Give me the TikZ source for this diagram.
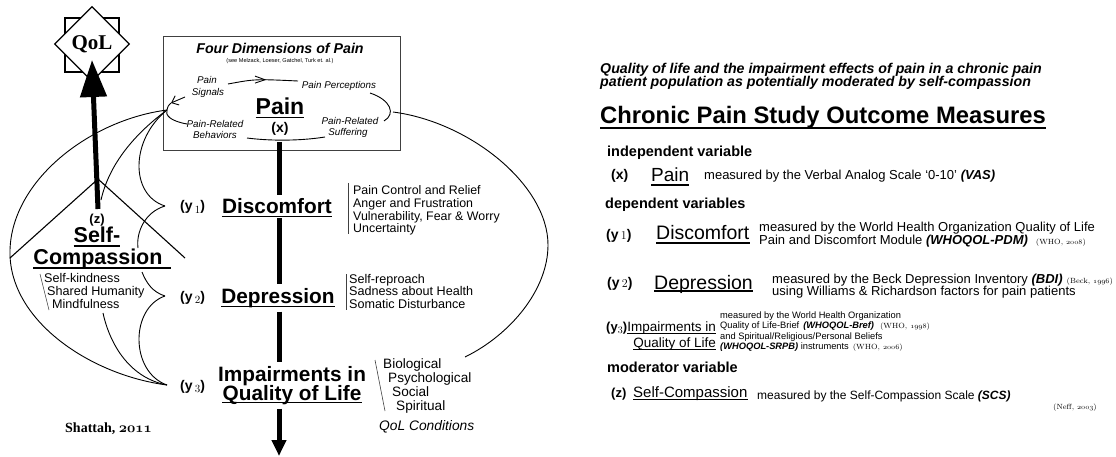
\documentclass[tikz,border=0pt]{standalone}
\usepackage{fontspec}
\setmainfont{Liberation Sans}
\newfontfamily\lmr{Latin Modern Roman}
\newfontfamily\lsr{Liberation Serif}
\usetikzlibrary{arrows.meta,decorations.markings,shapes.geometric}
\newcommand\fsz[1]{\fontsize{#1}{#1}\selectfont}
\newcommand\osn[1]{{\usefont{OML}{cmm}{m}{it}#1}}
\newcommand\osnb[1]{{\usefont{OML}{cmm}{b}{it}#1}}
\newcommand\refc[2]{{\lmr\fsz{7.5}(#1, \osn{#2})}}
\newcommand\ysub[3]{{\bfseries (y}\,\raisebox{#3}{\lmr\fsz{#2}#1}{\bfseries )}}
\newcommand\ysubt[3]{{\bfseries (y}\raisebox{#3}{\lmr\fsz{#2}#1}{\bfseries )}}
\begin{document}
\begin{tikzpicture}[x=1pt,y=-1pt,
  cv/.style={line width=0.9pt},
  thk/.style={line width=5pt},
  ul/.style={line width=1.1pt},
  tx/.style={inner sep=0pt, anchor=base west},
  txc/.style={inner sep=0pt, anchor=base},
  mid/.style={inner xsep=0pt, inner ysep=4pt, anchor=base, font=\bfseries\fsz{20.8}},
  lst/.style={line width=0.6pt, black!75},
  itl/.style={inner sep=0pt, anchor=base, font=\itshape\fsz{9.8}},
  desc/.style={inner sep=0pt, anchor=base west, font=\fsz{13}},
  desc3/.style={inner sep=0pt, anchor=base west, font=\fsz{9.3}},
  head/.style={inner sep=0pt, anchor=base west, font=\bfseries\fsz{14.5}},
]
\useasboundingbox (0,0) rectangle (1116,457);

% ---------- QoL ----------
\node[draw, line width=1.3pt, minimum size=54pt, inner sep=0pt] (sq) at (92,45) {};
\node[diamond, aspect=1, draw, fill=white, line width=1.3pt, minimum width=75pt, minimum height=75pt, inner sep=0pt,
      font=\lsr\bfseries\fsz{21}] (qol) at (92,44) {QoL};
\coordinate (qtip) at (92,60);
\coordinate (zt) at (98,209);
\draw[thk, -{Triangle[length=37pt,width=26pt]}] (zt) -- (qtip);

% ---------- Pain box ----------
\node[draw=black!75, line width=1pt, minimum width=237pt, minimum height=114pt, inner sep=0pt] (box) at (281.5,94) {};
\node[txc, font=\bfseries\itshape\fsz{14.2}] (fdp) at (280,54) {Four Dimensions of Pain};
\node[txc, font=\fsz{5.6}] (see) at (280,63) {(see Melzack, Loeser, Gatchel, Turk et. al.)};
\node[txc, font=\bfseries\fsz{23}] (pain) at (280,115) {Pain};
\draw[ul, line width=1.3pt] ([yshift=-2.5pt]pain.base west) -- ([yshift=-2.5pt]pain.base east);
\node[txc, font=\bfseries\fsz{14}] (xl) at (280,133) {(x)};

\node[itl] (ps1) at (207,84) {Pain};
\node[itl] (ps2) at (208,96) {Signals};
\node[itl] (pp) at (339,89) {Pain Perceptions};
\node[itl] (pb1) at (215,128) {Pain-Related};
\node[itl] (pb2) at (215,139) {Behaviors};
\node[itl] (pr1) at (350,125) {Pain-Related};
\node[itl] (pr2) at (348,136) {Suffering};

% inner cycle
\draw[cv, postaction={decorate}, decoration={markings,
   mark=at position 0.55 with {\arrow{Straight Barb[length=10pt,width=7pt]}}}]
   (228,84) .. controls (255,79) .. (298,81);
\draw[cv] (370,93) .. controls (391,100) and (396,114) .. (384,121);
\draw[cv] (325,137) .. controls (300,141) and (270,141) .. (247,138);
\coordinate (P) at (167,110);
\draw[cv] (187,124) .. controls (170,121) and (165,115) .. (P) .. controls (168,106) .. (171,103);
\draw[cv, -{Straight Barb[length=6pt,width=10pt]}] (185,97) -- (171,103);

% ---------- central spine ----------
\coordinate (vx) at (279,142);
\node[mid] (disc) at (277,214) {Discomfort};
\draw[ul, line width=1.3pt] ([yshift=-2.5pt]disc.base west) -- ([yshift=-2.5pt]disc.base east);
\node[mid] (dep) at (278,303) {Depression};
\draw[ul, line width=1.3pt] ([yshift=-3.5pt]dep.base west) -- ([yshift=-3.5pt]dep.base east);
\node[mid] (imp1) at (292,381) {Impairments in};
\node[mid] (imp2) at (292,400) {Quality of Life};
\draw[ul, line width=1.3pt] ([yshift=-2.5pt]imp2.base west) -- ([yshift=-2.5pt]imp2.base east);
\coordinate (bot) at (279,456);
\draw[thk] (vx) -- (vx |- disc.north);
\draw[thk] (vx |- disc.south) -- (vx |- dep.north);
\draw[thk] (vx |- dep.south) -- (vx |- imp1.north);
\draw[thk, -{Triangle[length=16pt,width=14pt]}] (vx |- imp2.south) -- (bot);

% dimension lists
\draw[lst] (348,183) -- (348,234);
\node[tx, font=\fsz{12.4}] (l11) at (353,195) {Pain Control and Relief};
\node[tx, font=\fsz{12.4}] (l12) at (353,207.5) {Anger and Frustration};
\node[tx, font=\fsz{12.4}] (l13) at (353,220) {Vulnerability, Fear \& Worry};
\node[tx, font=\fsz{12.4}] (l14) at (353,232.5) {Uncertainty};
\draw[lst] (346,274) -- (346,310);
\node[tx, font=\fsz{12.6}] (l21) at (349,283) {Self-reproach};
\node[tx, font=\fsz{12.6}] (l22) at (349,295.5) {Sadness about Health};
\node[tx, font=\fsz{12.6}] (l23) at (349,308) {Somatic Disturbance};
\draw[lst] (375,360) -- (385,411);
\node[tx, font=\fsz{13.6}] (l31) at (383,368) {Biological};
\node[tx, font=\fsz{13.6}] (l32) at (388,382) {Psychological};
\node[tx, font=\fsz{13.6}] (l33) at (392,396) {Social};
\node[tx, font=\fsz{13.6}] (l34) at (396,410) {Spiritual};
\node[tx, font=\itshape\fsz{13.8}] (qc) at (379,430) {QoL Conditions};

% ---------- y labels ----------
\node[tx, font=\fsz{14}] (y1) at (180,211) {\ysub{1}{11}{-2.5pt}};
\node[tx, font=\fsz{14}] (y2) at (180,301) {\ysub{2}{11}{-2.5pt}};
\node[tx, font=\fsz{14}] (y3) at (180,390) {\ysub{3}{11}{-2.5pt}};

% ---------- Self-Compassion ----------
\node[txc, font=\bfseries\fsz{13}] (zl) at (97,223) {(z)};
\node[txc, font=\bfseries\fsz{21.5}] (self) at (97,243) {Self-};
\draw[ul, line width=1.3pt] ([yshift=-3pt]self.base west) -- ([yshift=-3pt]self.base east);
\node[txc, font=\bfseries\fsz{21.5}] (comp) at (98,264) {Compassion};
\draw[ul, line width=1.3pt] ([yshift=-4pt]comp.base west) -- ([yshift=-4pt,xshift=8pt]comp.base east);
\draw[lst] (40,274) -- (49,310);
\node[tx, font=\fsz{12.6}] (s1) at (44,282) {Self-kindness};
\node[tx, font=\fsz{12.6}] (s2) at (47,295) {Shared Humanity};
\node[tx, font=\fsz{12.6}] (s3) at (52,308) {Mindfulness};

% roof
\coordinate (A) at (98,179);
\coordinate (RL) at (10,258);
\coordinate (RR) at (185,258);
\draw[line width=1.1pt] (A) -- (RL);
\draw[line width=1.1pt] (A) -- (RR);

% ---------- moderation curves ----------
\coordinate (Y1) at (165,206);
\coordinate (Y2) at (165,296);
\coordinate (Y3) at (167,385);
\coordinate (Ct) at (138,248);
\coordinate (Cb) at (142,272);
\coordinate (Ls) at (103,313);
\coordinate (Zc) at (101,200);
\draw[cv] (P) .. controls (90,120) and (12,180) .. (10,250) .. controls (8,320) and (90,375) .. (Y3);
\draw[cv] (P) .. controls (130,140) and (130,195) .. (Y1);
\draw[cv] (P) .. controls (140,130) and (110,160) .. (Zc);
\draw[cv] (Y1) .. controls (145,212) and (136,232) .. (Ct);
\draw[cv] (Y2) .. controls (152,292) and (146,282) .. (Cb);
\draw[cv] (Y2) .. controls (130,308) and (130,372) .. (Y3);
\draw[cv] (Ls) .. controls (110,345) and (130,378) .. (Y3);

% right big curve to QoL Conditions
\coordinate (Rs) at (393,112);
\coordinate (Re) at (465,357);
\draw[cv] (Rs) .. controls (470,122) and (548,185) .. (548,245) .. controls (548,290) and (510,335) .. (Re);

% signature
\node[tx, font=\lsr\bfseries\fsz{14}] (sig) at (65,432) {Shattah, \osnb{2011}};

% ---------- right panel ----------
\node[tx, font=\bfseries\itshape\fsz{14.2}] (t1) at (600,74) {Quality of life and the impairment effects of pain in a chronic pain};
\node[tx, font=\bfseries\itshape\fsz{14.2}] (t2) at (600,87) {patient population as potentially moderated by self-compassion};
\node[tx, font=\bfseries\fsz{23.8}] (hd) at (600,124) {Chronic Pain Study Outcome Measures};
\draw[ul, line width=1.4pt] ([yshift=-4pt]hd.base west) -- ([yshift=-4pt]hd.base east);

\node[head] (iv) at (607,157) {independent variable};
\node[tx, font=\bfseries\fsz{14}] (rx) at (611,180) {(x)};
\node[tx, font=\fsz{19}] (rpain) at (651,182) {Pain};
\draw[ul] ([yshift=-3pt]rpain.base west) -- ([yshift=-3pt]rpain.base east);
\node[desc] (dx) at (704,180) {measured by the Verbal Analog Scale ‘0-10’ {\bfseries\itshape (VAS)}};

\node[head] (dv) at (605,208) {dependent variables};
\node[tx, font=\fsz{14}] (ry1) at (606,240) {\ysub{1}{12}{0pt}};
\node[tx, font=\fsz{19.5}] (rdisc) at (656,240) {Discomfort};
\draw[ul] ([yshift=-3pt]rdisc.base west) -- ([yshift=-3pt]rdisc.base east);
\node[desc] (d1a) at (759,232) {measured by the World Health Organization Quality of Life};
\node[desc] (d1b) at (759,244.5) {Pain and Discomfort Module {\bfseries\itshape (WHOQOL-PDM)}\hspace{8pt}\refc{WHO}{2008}};

\node[tx, font=\fsz{14}] (ry2) at (607,287) {\ysub{2}{12}{0pt}};
\node[tx, font=\fsz{19.5}] (rdep) at (654,289) {Depression};
\draw[ul] ([yshift=-2pt]rdep.base west) -- ([yshift=-2pt]rdep.base east);
\node[desc] (d2a) at (772,283) {measured by the Beck Depression Inventory {\bfseries\itshape (BDI)}\hspace{4pt}\refc{Beck}{1996}};
\node[desc] (d2b) at (772,295) {using Williams \& Richardson factors for pain patients};

\node[tx, font=\fsz{13}] (ry3) at (606,331) {\ysubt{3}{10}{-2.5pt}};
\node[inner sep=0pt, anchor=base east, font=\fsz{13.5}] (rimp1) at (716,331) {Impairments in};
\node[inner sep=0pt, anchor=base east, font=\fsz{13.5}] (rimp2) at (716,347) {Quality of Life};
\draw[ul] ([yshift=-2.5pt]rimp1.base west) -- ([yshift=-2.5pt]rimp1.base east);
\draw[ul] ([yshift=-2.5pt]rimp2.base west) -- ([yshift=-2.5pt]rimp2.base east);
\node[desc3] (d3a) at (720,318) {measured by the World Health Organization};
\node[desc3] (d3b) at (720,328.5) {Quality of Life-Brief\hspace{4pt}{\bfseries\itshape (WHOQOL-Bref)}\hspace{6pt}\refc{WHO}{1998}};
\node[desc3] (d3c) at (720,339) {and Spiritual/Religious/Personal Beliefs};
\node[desc3] (d3d) at (720,349.5) {{\bfseries\itshape (WHOQOL-SRPB)} instruments\hspace{4pt}\refc{WHO}{2006}};

\node[head] (mv) at (607,372) {moderator variable};
\node[tx, font=\bfseries\fsz{13}] (rz) at (611,397) {(z)};
\node[tx, font=\fsz{15}] (rsc) at (633,397) {Self-Compassion};
\draw[ul] ([yshift=-2.5pt]rsc.base west) -- ([yshift=-2.5pt]rsc.base east);
\node[desc, font=\fsz{12}] (dz) at (757,399) {measured by the Self-Compassion Scale {\bfseries\itshape (SCS)}};
\node[inner sep=0pt, anchor=base east] (neff) at (1097,409) {\refc{Neff}{2003}};
\end{tikzpicture}
\end{document}
